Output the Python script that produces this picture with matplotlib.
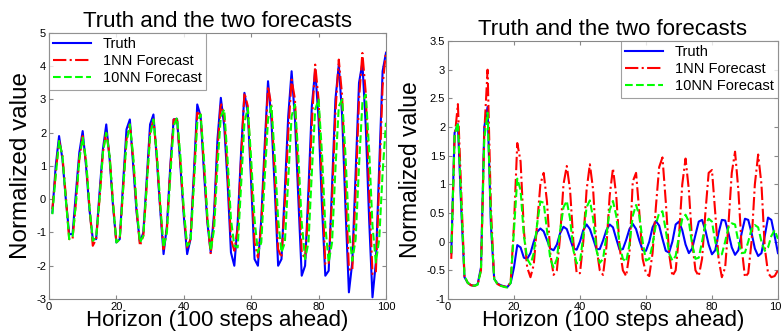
import numpy as np
import matplotlib
matplotlib.use('Agg')
import matplotlib.pyplot as plt
from matplotlib.ticker import FormatStrFormatter

plt.rcParams['font.family'] = ['Liberation Sans', 'DejaVu Sans']

# horizon steps
steps = np.arange(1, 101)

# left panel: series
left_truth = [-0.4, 1.0, 1.9, 1.2, 0.0, -1.05, -1.05, 0.2, 1.4, 2.05,
              1.0, -0.3, -1.2, -1.2, 0.2, 1.5, 2.25, 1.2, -0.2, -1.3,
              -1.2, 0.5, 2.1, 2.4, 1.0, -0.4, -1.3, -1.0, 0.6, 2.25,
              2.55, 1.2, -0.3, -1.65, -0.8, 1.0, 2.4, 2.42, 1.0, -0.5,
              -1.65, -1.2, 0.8, 2.85, 2.5, 0.8, -0.7, -1.6, -0.4, 1.8,
              3.05, 2.2, 0.5, -1.6, -2.0, -0.7, 1.4, 3.2, 2.6, 0.5,
              -1.8, -2.0, -0.6, 1.6, 3.55, 2.4, 0.3, -2.0, -1.8, 0.3,
              2.5, 3.85, 2.4, 0.0, -2.3, -2.0, 0.3, 2.8, 3.9, 2.4,
              -0.2, -2.3, -2.15, 0.4, 3.0, 4.05, 2.5, -0.3, -2.8, -1.9,
              0.8, 3.5, 4.1, 2.2, -0.6, -2.95, -1.9, 1.0, 3.85, 4.4]
left_1nn = [-0.3, 0.8, 1.75, 1.3, 0.1, -1.2, -1.2, -0.1, 1.2, 1.9,
            1.1, -0.2, -1.4, -1.2, 0.0, 1.4, 2.05, 1.3, -0.1, -1.3,
            -1.2, 0.3, 1.8, 2.25, 1.2, -0.3, -1.4, -1.1, 0.4, 2.0,
            2.4, 1.3, -0.2, -1.5, -0.9, 0.9, 2.4, 2.4, 1.1, -0.4,
            -1.45, -1.2, 0.6, 2.6, 2.55, 1.0, -0.6, -1.65, -0.6, 1.5,
            2.9, 2.5, 0.8, -1.2, -1.55, -0.9, 1.2, 3.2, 2.8, 0.8,
            -1.3, -1.75, -0.8, 1.3, 3.4, 2.8, 0.7, -1.5, -1.75, -0.1,
            2.0, 3.6, 3.0, 0.6, -1.6, -1.8, -0.2, 2.3, 4.05, 3.0,
            0.5, -1.95, -1.95, 0.0, 2.6, 4.2, 3.1, 0.4, -2.1, -2.15,
            0.2, 3.0, 4.4, 3.2, 0.3, -2.25, -2.2, 0.5, 3.4, 4.45]
left_10nn = [-0.45, 0.7, 1.75, 1.3, 0.0, -1.2, -1.15, -0.1, 1.2, 1.85,
             1.2, -0.2, -1.25, -1.15, 0.0, 1.4, 2.0, 1.3, -0.1, -1.3,
             -1.2, 0.3, 1.7, 2.25, 1.3, -0.2, -1.3, -1.1, 0.4, 1.9,
             2.4, 1.4, -0.1, -1.45, -1.0, 0.7, 2.2, 2.45, 1.3, -0.3,
             -1.4, -1.3, 0.4, 2.3, 2.55, 1.2, -0.5, -1.55, -0.9, 1.0,
             2.5, 2.7, 1.2, -0.6, -1.4, -1.45, 0.4, 2.3, 2.75, 1.2,
             -0.6, -1.6, -1.3, 0.6, 2.4, 2.8, 1.3, -0.6, -1.6, -1.3,
             0.6, 2.5, 2.85, 1.3, -0.7, -1.8, -1.3, 0.8, 2.7, 3.0,
             1.4, -0.8, -1.9, -1.3, 0.9, 2.8, 3.0, 1.3, -0.9, -1.85,
             -1.2, 1.0, 2.9, 3.15, 1.5, -0.8, -1.9, -1.2, 0.8, 2.3]

# right panel: series
right_truth = [-0.2, 1.9, 2.05, 0.6, -0.62, -0.72, -0.76, -0.77, -0.74, -0.45,
               2.0, 2.35, 0.3, -0.65, -0.73, -0.76, -0.78, -0.79, -0.72, -0.45,
               -0.06, -0.1, -0.28, -0.3, -0.2, 0.0, 0.17, 0.23, 0.18, 0.03,
               -0.12, -0.15, -0.05, 0.15, 0.26, 0.22, 0.05, -0.12, -0.14, 0.0,
               0.2, 0.3, 0.22, 0.05, -0.13, -0.13, 0.02, 0.2, 0.3, 0.25,
               0.05, -0.14, -0.13, 0.03, 0.22, 0.31, 0.22, 0.02, -0.15, -0.16,
               0.0, 0.25, 0.36, 0.28, 0.05, -0.16, -0.19, 0.0, 0.3, 0.35,
               0.2, -0.05, -0.2, -0.12, 0.12, 0.35, 0.38, 0.2, -0.05, -0.22,
               -0.15, 0.15, 0.38, 0.37, 0.15, -0.1, -0.23, -0.15, 0.15, 0.4,
               0.38, 0.15, -0.12, -0.25, -0.2, 0.1, 0.42, 0.38, 0.1, -0.2]
right_1nn = [-0.3, 1.8, 2.4, 0.9, -0.6, -0.72, -0.76, -0.77, -0.75, -0.5,
             1.9, 3.0, 0.6, -0.65, -0.74, -0.77, -0.78, -0.8, -0.7, 0.3,
             1.72, 1.4, 0.2, -0.45, -0.62, -0.4, 0.3, 1.0, 1.2, 0.7,
             -0.2, -0.58, -0.5, 0.1, 1.0, 1.32, 0.9, 0.0, -0.55, -0.55,
             0.0, 0.9, 1.35, 0.9, -0.1, -0.5, -0.58, -0.1, 0.8, 1.28,
             0.8, -0.1, -0.5, -0.6, -0.2, 1.05, 1.2, 0.5, -0.3, -0.55,
             -0.6, -0.2, 0.6, 1.3, 1.47, 0.7, -0.2, -0.6, -0.5, 0.1,
             1.0, 1.45, 0.9, 0.0, -0.5, -0.6, -0.3, 0.5, 1.2, 1.25,
             0.5, -0.3, -0.62, -0.45, 0.3, 1.2, 1.57, 0.9, -0.1, -0.62,
             -0.55, 0.0, 1.0, 1.52, 1.0, -0.1, -0.55, -0.62, -0.6, -0.5]
right_10nn = [-0.2, 1.85, 2.08, 0.7, -0.6, -0.72, -0.76, -0.77, -0.75, -0.5,
              1.8, 2.25, 0.4, -0.65, -0.74, -0.77, -0.79, -0.8, -0.72, 0.2,
              1.1, 0.9, 0.1, -0.3, -0.4, -0.2, 0.3, 0.7, 0.68, 0.2,
              -0.3, -0.45, -0.3, 0.2, 0.6, 0.71, 0.4, -0.15, -0.38, -0.35,
              0.1, 0.6, 0.72, 0.4, -0.15, -0.37, -0.3, 0.1, 0.55, 0.71,
              0.45, -0.05, -0.3, -0.35, -0.05, 0.45, 0.64, 0.45, 0.0, -0.33,
              -0.3, -0.05, 0.3, 0.5, 0.53, 0.2, -0.2, -0.33, -0.25, 0.1,
              0.4, 0.47, 0.35, -0.05, -0.3, -0.28, 0.0, 0.3, 0.4, 0.35,
              0.0, -0.24, -0.22, 0.0, 0.25, 0.32, 0.3, 0.0, -0.2, -0.19,
              0.0, 0.22, 0.29, 0.25, 0.0, -0.16, -0.1, 0.1, 0.2, 0.05]

labels = ['Truth', '1NN Forecast', '10NN Forecast']

fig = plt.figure(figsize=(7.81, 3.35), dpi=100)
ax1 = fig.add_axes([0.0627, 0.1075, 0.4315, 0.794])
ax2 = fig.add_axes([0.5736, 0.1075, 0.4225, 0.770])


def draw(ax, truth, nn1, nn10, ylab_size):
    ax.plot(steps, truth, color='#0000ff', lw=1.5, ls='-', label=labels[0])
    ax.plot(steps, nn1, color='#ff0000', lw=1.5, ls='-.', label=labels[1])
    ax.plot(steps, nn10, color='#00ff00', lw=1.5, ls='--', label=labels[2])
    ax.set_xlim(0, 100)
    ax.set_xticks(range(0, 101, 20))
    ax.tick_params(direction='in', length=3, labelsize=8, top=True, right=True,
                   color='#888888', pad=2)
    for s in ax.spines.values():
        s.set_color('#888888')
        s.set_linewidth(0.8)
    ax.yaxis.set_major_formatter(FormatStrFormatter('%g'))
    ax.set_title('Truth and the two forecasts', fontsize=16, pad=4)
    ax.set_xlabel('Horizon (100 steps ahead)', fontsize=16, labelpad=-1)
    ax.set_ylabel('Normalized value', fontsize=ylab_size, labelpad=3)


draw(ax1, left_truth, left_1nn, left_10nn, 17.5)
ax1.set_ylim(-3, 5)
ax1.set_yticks(range(-3, 6))
leg1 = ax1.legend(loc='upper left', borderaxespad=0, fontsize=10.5,
                  fancybox=False, handlelength=2.6, labelspacing=0.2,
                  borderpad=0.3)

draw(ax2, right_truth, right_1nn, right_10nn, 16.5)
ax2.set_ylim(-1, 3.5)
ax2.set_yticks(np.arange(-1, 3.51, 0.5))
leg2 = ax2.legend(loc='upper right', borderaxespad=0, fontsize=10.5,
                  fancybox=False, handlelength=2.6, labelspacing=0.2,
                  borderpad=0.3)

for leg in (leg1, leg2):
    leg.get_frame().set_edgecolor('#888888')
    leg.get_frame().set_linewidth(0.8)

fig.savefig('out.png', dpi=100)
